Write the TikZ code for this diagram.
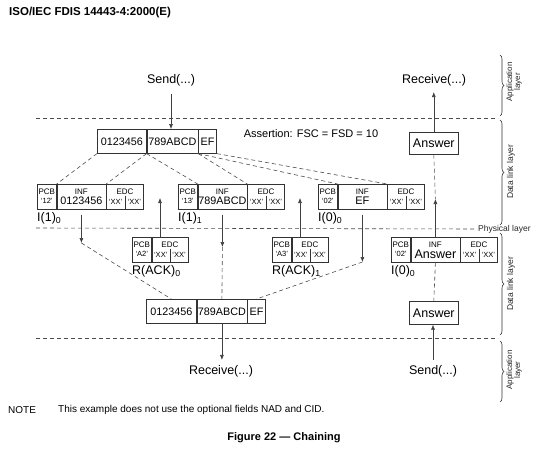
\documentclass[tikz,border=0pt]{standalone}
\usepackage{fontspec}
\setmainfont{Liberation Sans}
\usetikzlibrary{arrows.meta,decorations.pathreplacing,calc}
\newcommand\FS[1]{\fontsize{#1}{#1}\selectfont}
\tikzset{
  cell/.style={draw=black!80, line width=0.6pt, inner sep=0pt, anchor=north west, minimum height=25pt},
  lbl/.style={inner sep=0pt, font=\FS{8}},
  xx/.style={inner sep=0pt, font=\FS{7.5}},
  big/.style={inner sep=0pt, font=\FS{10.8}},
  txt/.style={inner sep=3pt, font=\FS{12.5}},
  dl/.style={draw=black!70, line width=0.6pt, dash pattern=on 4pt off 3pt},
  arr/.style={draw=black!75, line width=0.6pt, -{Latex[length=5pt,width=4pt]}},
  thin/.style={draw=black!80, line width=0.6pt},
  brc/.style={draw=black!80, line width=0.6pt, decorate, decoration={brace, amplitude=4pt}},
  side/.style={inner sep=0pt, text=black!85, rotate=90, align=center},
}
% I-block: name, x, y, pcb value, inf text, inf font
\newcommand\IBlk[6]{%
  \node[cell, minimum width=19pt] (#1pcb) at (#2,#3) {};
  \node[cell, minimum width=49pt] (#1inf) at (#1pcb.north east) {};
  \node[cell, minimum width=37pt] (#1edc) at (#1inf.north east) {};
  \node[lbl] (#1pcbt) at ($(#1pcb.north)+(0,7.5)$) {PCB};
  \node[xx] (#1pcbv) at ($(#1pcb.north)+(0,17)$) {`#4'};
  \node[lbl] (#1inft) at ($(#1inf.north)+(0,7.5)$) {INF};
  \node[inner sep=0pt, font=\FS{#6}] (#1infv) at ($(#1inf.north)+(0,17)$) {#5};
  \node[lbl] (#1edct) at ($(#1edc.north)+(0,7.5)$) {EDC};
  \draw[thin] ($(#1edc.north)+(0,11.5)$) -- (#1edc.south);
  \node[xx] (#1x1) at ($(#1edc.south west)!0.25!(#1edc.south east)+(0,-8)$) {`XX'};
  \node[xx] (#1x2) at ($(#1edc.south west)!0.75!(#1edc.south east)+(0,-8)$) {`XX'};
}
% R-block: name, x, y, pcb value
\newcommand\RBlk[4]{%
  \node[cell, minimum width=19pt] (#1pcb) at (#2,#3) {};
  \node[cell, minimum width=36pt] (#1edc) at (#1pcb.north east) {};
  \node[lbl] (#1pcbt) at ($(#1pcb.north)+(0,7.5)$) {PCB};
  \node[xx] (#1pcbv) at ($(#1pcb.north)+(0,17)$) {`#4'};
  \node[lbl] (#1edct) at ($(#1edc.north)+(0,7.5)$) {EDC};
  \draw[thin] ($(#1edc.north)+(0,11.5)$) -- (#1edc.south);
  \node[xx] (#1x1) at ($(#1edc.south west)!0.25!(#1edc.south east)+(0,-8)$) {`XX'};
  \node[xx] (#1x2) at ($(#1edc.south west)!0.75!(#1edc.south east)+(0,-8)$) {`XX'};
}
\begin{document}
\begin{tikzpicture}[x=1pt,y=-1pt]
\useasboundingbox (0,0) rectangle (554,450);
\fill[white] (0,0) rectangle (554,450);

% header
\node[anchor=west, inner sep=0pt, font=\bfseries\FS{11.5}] (hdr) at (9,13) {ISO/IEC FDIS 14443-4:2000(E)};

% layer separators
\draw[dl] (36,118) -- (498,118);
\node[anchor=west, inner sep=1pt, font=\FS{8.5}, text=black!85] (phys) at (477,229) {Physical layer};
\draw[dl] (36,228) -- (phys.west);
\draw[dl] (36,338) -- (498,338);

% braces
\draw[brc] (500,55) -- (500,116);
\draw[brc] (500,120) -- (500,225);
\draw[brc] (500,233) -- (500,335);
\draw[brc] (500,341) -- (500,402);
\node[side, font=\FS{8}] (appT) at (514,82) {Application\\layer};
\node[side, font=\FS{8.5}] (dlT) at (511,172) {Data link layer};
\node[side, font=\FS{8.5}] (dlB) at (511,284) {Data link layer};
\node[side, font=\FS{8}] (appB) at (514,370) {Application\\layer};

% top application layer
\node[txt] (sendT) at (171,80) {Send(...)};
\node[txt] (recvT) at (434,80) {Receive(...)};

% top data buffer
\node[cell, minimum width=49pt, minimum height=24pt] (tb1) at (97,129) {};
\node[cell, minimum width=51pt, minimum height=24pt] (tb2) at (tb1.north east) {};
\node[cell, minimum width=18pt, minimum height=24pt] (tb3) at (tb2.north east) {};
\node[big] (tb1t) at (tb1.center) {0123456};
\node[big] (tb2t) at (tb2.center) {789ABCD};
\node[big] (tb3t) at (tb3.center) {EF};

\node[inner sep=0pt, font=\FS{11}] (assert) at (311,134) {Assertion: FSC = FSD = 10};

\node[cell, minimum width=49pt, minimum height=22pt] (ansT) at (409,132) {};
\node[inner sep=0pt, font=\FS{12.5}] (ansTt) at (ansT.center) {Answer};

% I-blocks
\IBlk{ba}{37}{184}{12}{0123456}{10.8}
\IBlk{bb}{178}{184}{13}{789ABCD}{10.8}
\IBlk{bc}{318}{184}{02}{EF}{11}
\node[anchor=west, inner sep=0pt, font=\FS{12.5}] (la) at (37,218) {I(1)\textsubscript{0}};
\node[anchor=west, inner sep=0pt, font=\FS{12.5}] (lb) at (178,218) {I(1)\textsubscript{1}};
\node[anchor=west, inner sep=0pt, font=\FS{12.5}] (lc) at (318,218) {I(0)\textsubscript{0}};

% R-blocks and answer block
\RBlk{ra}{132}{237}{A2}
\RBlk{rb}{272}{237}{A3}
\IBlk{bd}{391}{237}{02}{Answer}{12.5}
\node[anchor=west, inner sep=0pt, font=\FS{12.5}] (lra) at (132,271) {R(ACK)\textsubscript{0}};
\node[anchor=west, inner sep=0pt, font=\FS{12.5}] (lrb) at (272,271) {R(ACK)\textsubscript{1}};
\node[anchor=west, inner sep=0pt, font=\FS{12.5}] (ld) at (391,271) {I(0)\textsubscript{0}};

% bottom data buffer
\node[cell, minimum width=50pt, minimum height=24pt] (bb1) at (146,299) {};
\node[cell, minimum width=50pt, minimum height=24pt] (bb2) at (bb1.north east) {};
\node[cell, minimum width=18pt, minimum height=24pt] (bb3) at (bb2.north east) {};
\node[big] (bb1t) at (bb1.center) {0123456};
\node[big] (bb2t) at (bb2.center) {789ABCD};
\node[big] (bb3t) at (bb3.center) {EF};

\node[cell, minimum width=49pt, minimum height=23pt] (ansB) at (409,301) {};
\node[inner sep=0pt, font=\FS{12.5}] (ansBt) at (ansB.center) {Answer};

\node[txt] (recvB) at (221,371) {Receive(...)};
\node[txt] (sendB) at (433,371) {Send(...)};

% application arrows
\draw[arr, shorten <=5pt] (sendT.south) -- (sendT.south |- tb2.north);
\draw[arr, shorten >=3pt] (ansT.north) -- (ansT.north |- recvT.south);
\draw[arr, shorten >=2pt] (bb2.south) -- (bb2.south |- recvB.north);
\draw[arr, shorten <=2pt] (sendB.north) -- (sendB.north |- ansB.south);

% splitting of the buffer into I-blocks
\draw[dl] (tb1.south west) -- (bainf.north west);
\draw[dl] (tb1.south east) -- (bainf.north east);
\draw[dl] (tb2.south west) -- (bbinf.north west);
\draw[dl] (tb2.south east) -- (bbinf.north east);
\draw[dl] (tb3.south west) -- (bcinf.north west);
\draw[dl] (tb3.south east) -- (bcinf.north east);

% transmission PCD -> PICC
\coordinate (ea) at (bainf.south |- 0,243);
\coordinate (eb) at (bbinf.south |- 0,247);
\coordinate (ec) at (bcinf.south |- 0,262);
\draw[arr, shorten <=5pt] (bainf.south) -- (ea);
\draw[arr, shorten <=5pt] (bbinf.south) -- (eb);
\draw[arr, shorten <=5pt] (bcinf.south) -- (ec);
\draw[dl] (ea) -- (bb1.north);
\draw[dl] (eb) -- (bb2.north);
\draw[dl] (ec) -- (bb3.north);

% transmission PICC -> PCD
\coordinate (ua) at (160,198);
\coordinate (ub) at (300,198);
\coordinate (uc) at (bdinf.north |- 0,199);
\draw[arr] (ua |- raedc.north) -- (ua);
\draw[arr] (ub |- rbedc.north) -- (ub);
\draw[arr] (bdinf.north) -- (uc);
\draw[dl] (ansT.south) -- (uc);
\draw[dl] (bdinf.south) -- (ansB.north);

% note and caption
\node[anchor=west, inner sep=0pt, font=\FS{10}] (noteh) at (8,410) {NOTE};
\node[anchor=west, inner sep=0pt, font=\FS{10}] (notet) at (58,410) {This example does not use the optional fields NAD and CID.};
\node[inner sep=0pt, font=\bfseries\FS{11}] (cap) at (284,438) {Figure 22 --- Chaining};
\end{tikzpicture}
\end{document}
